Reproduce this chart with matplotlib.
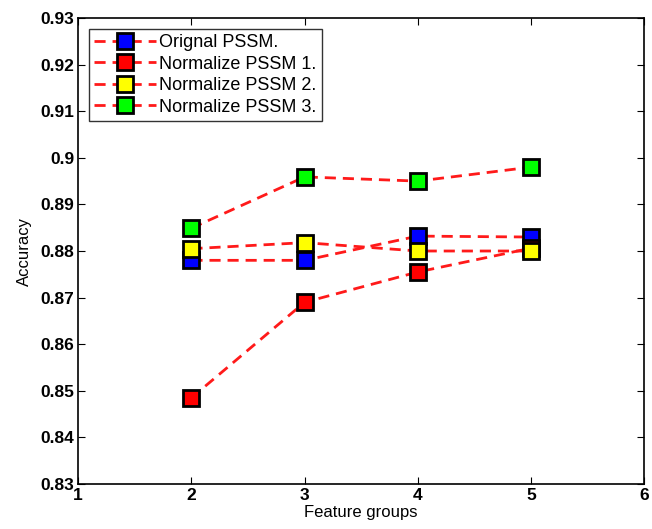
import matplotlib

matplotlib.use("Agg")
import matplotlib.pyplot as plt

plt.rcParams["font.family"] = ["Liberation Sans", "DejaVu Sans"]

# values
feature_groups = [2, 3, 4, 5]
orignal_pssm = [0.878, 0.878, 0.8832, 0.883]
normalize_pssm_1 = [0.8485, 0.869, 0.8755, 0.8806]
normalize_pssm_2 = [0.8805, 0.8818, 0.880, 0.880]
normalize_pssm_3 = [0.8849, 0.8959, 0.895, 0.898]

series = [
    ("Orignal PSSM.", orignal_pssm, "#0000ff"),
    ("Normalize PSSM 1.", normalize_pssm_1, "#ff0000"),
    ("Normalize PSSM 2.", normalize_pssm_2, "#ffff00"),
    ("Normalize PSSM 3.", normalize_pssm_3, "#00ff00"),
]

fig = plt.figure(figsize=(6.52, 5.29), dpi=100)
ax = fig.add_axes([0.12, 0.085, 0.868, 0.881])

for label, values, color in series:
    ax.plot(
        feature_groups,
        values,
        linestyle="--",
        color="#ff1a1a",
        linewidth=2,
        dashes=(4, 2.5),
        marker="s",
        markersize=12,
        markerfacecolor=color,
        markeredgecolor="black",
        markeredgewidth=2,
        label=label,
    )

ax.set_xlim(1, 6)
ax.set_ylim(0.83, 0.93)
ax.set_xticks([1, 2, 3, 4, 5, 6])
ax.set_yticks([0.83 + 0.01 * i for i in range(11)])
ax.set_yticklabels(["0.83", "0.84", "0.85", "0.86", "0.87", "0.88", "0.89", "0.9",
                    "0.91", "0.92", "0.93"])
ax.tick_params(direction="in", top=True, right=True, length=5, labelsize=12.5, pad=3)
for lab in ax.get_xticklabels() + ax.get_yticklabels():
    lab.set_fontweight("bold")
for spine in ax.spines.values():
    spine.set_linewidth(1.2)

ax.set_xlabel("Feature groups", fontsize=12, labelpad=1)
ax.set_ylabel("Accuracy", fontsize=12, labelpad=6)

leg = ax.legend(loc="upper left", fontsize=13, frameon=True, fancybox=False,
                edgecolor="black", borderpad=0.3, labelspacing=0.25,
                handlelength=3.4, handletextpad=0.2, borderaxespad=0.6)
leg.get_frame().set_linewidth(1)

fig.savefig("out.png", dpi=100)
